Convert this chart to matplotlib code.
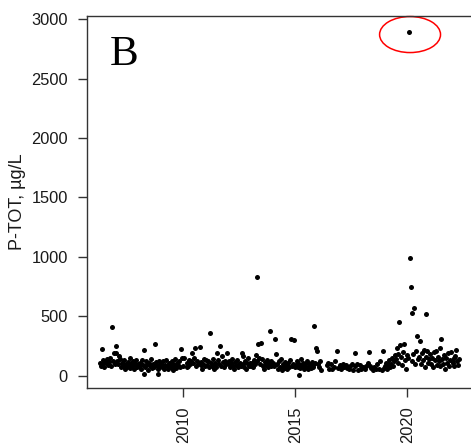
import numpy as np
import matplotlib
matplotlib.use("Agg")
import matplotlib.pyplot as plt
from matplotlib.patches import Ellipse

nan = np.nan
# Semi-monthly sampling slots (24 per year); nan = no sample taken
p_2006 = [nan, nan, nan, nan, nan, nan, 110, 80, 227, 95, 130, 75, 120, 105, 140, 90, 115, 150, 85, 407, 125, 188, 100, 193]
p_2007 = [250, 120, 95, 166, 140, 70, 110, 85, 130, 60, 100, 75, 115, 90, 145, 65, 105, 80, 125, 55, 95, 135, 70, 100]
p_2008 = [85, 110, 60, 130, 90, 216, 14, 75, 120, 95, 50, 105, 80, 140, 65, 100, 70, 267, 115, 90, 14, 60, 125, 85]
p_2009 = [100, 70, 120, 55, 90, 135, 80, 60, 110, 95, 75, 125, 50, 100, 85, 140, 65, 105, 90, 120, 70, 227, 145, 80]
p_2010 = [145, nan, nan, 75, 110, 85, 132, 95, 120, 193, 105, 150, 235, 80, 125, 95, 110, 238, 90, 115, 60, 100, 140, 85]
p_2011 = [132, 90, 120, 70, 362, 105, 85, 140, 60, 110, 95, 75, 188, 130, 100, 250, 80, 165, 115, 70, 125, 95, 188, 105]
p_2012 = [95, 120, 70, 105, 140, 80, 60, 115, 90, 130, 75, 100, 110, 85, 188, 166, 95, 70, 125, 60, 105, 145, 80, 110]
p_2013 = [85, 110, 70, 130, 95, 174, 827, 120, 264, 150, 100, 278, 140, 80, 60, 115, 90, 130, 75, 105, 376, 85, 120, 95]
p_2014 = [110, 80, 306, 180, 95, 60, 120, 75, 140, 50, 100, 85, 65, 115, 90, 55, 105, 70, 130, 308, 85, 100, 303, 75]
p_2015 = [90, 120, 70, 100, 6, 65, 138, 85, 110, 60, 95, 75, 125, 55, 100, 80, 65, 115, 90, 70, 421, 105, 230, 210]
p_2016 = [100, 75, 120, 48, nan, nan, nan, nan, nan, 90, nan, 110, 60, nan, 100, 55, nan, 70, 120, nan, 208, 65, nan, 90]
p_2017 = [60, 85, nan, 100, 70, nan, 90, 65, nan, 55, 80, nan, 95, 50, nan, 85, 188, nan, 100, 45, nan, 90, 55, nan]
p_2018 = [70, nan, 55, 80, nan, 105, 196, nan, 85, 65, nan, 45, 75, nan, 55, 100, nan, 60, 120, nan, 50, 210, nan, 65]
p_2019 = [80, 110, 60, 95, 130, 70, 100, 150, 85, 120, 175, 140, 230, 110, 185, 449, 258, 160, 90, 200, 267, 130, 60, 175]
p_2020 = [150, 2895, 990, 749, 530, 120, 180, 567, 95, 210, 334, 140, 160, 295, 100, 188, 130, 220, 75, 519, 160, 210, 110, 140]
p_2021 = [180, 100, 150, 70, 200, 130, 210, 90, 160, 120, 230, 85, 309, 140, 100, 175, 60, 150, 110, 190, 80, 130, 196, 120]
p_2022 = [110, 150, 80, 170, 216, 120, 90, 140]

years = list(range(2006, 2023))
series = [p_2006, p_2007, p_2008, p_2009, p_2010, p_2011, p_2012, p_2013, p_2014,
          p_2015, p_2016, p_2017, p_2018, p_2019, p_2020, p_2021, p_2022]
x_ticks = [2010, 2015, 2020]
y_ticks = [0, 500, 1000, 1500, 2000, 2500, 3000]

dates, vals = [], []
for yr, vs in zip(years, series):
    for i, v in enumerate(vs):
        dates.append(yr + (i + 0.5) / 24.0)
        vals.append(v)
dates = np.array(dates)
vals = np.array(vals, dtype=float)

plt.rcParams['font.family'] = ['Liberation Sans', 'DejaVu Sans']

fig = plt.figure(figsize=(4.71, 4.48), dpi=100)
ax = fig.add_axes([0.184, 0.134, 0.833, 0.830])
ax.plot(dates, vals, 'o', color='black', ms=3.6, mec='none', ls='none')

ax.set_xlim(2005.69, 2023.2)
ax.set_ylim(-103, 3025)
ax.set_xticks(x_ticks)
ax.set_xticklabels([str(t) for t in x_ticks], rotation=90)
ax.set_yticks(y_ticks)
ax.tick_params(axis='both', direction='out', length=6.5, width=1, color='#333333',
               labelsize=11.8, labelcolor='#1a1a1a', pad=7)
for s in ['left', 'top', 'bottom']:
    ax.spines[s].set_color('#333333')
    ax.spines[s].set_linewidth(1)
ax.spines['right'].set_visible(False)

# red ellipse around the maximum
imax = np.nanargmax(vals)
ax.add_patch(Ellipse((dates[imax] + 0.06, vals[imax] - 25), 2.72, 303,
                     fill=False, edgecolor='red', linewidth=1.1, clip_on=False))

fig.text(18 / 471, 1 - 202 / 448, 'P-TOT, µg/L', rotation=90, ha='center', va='center',
         fontsize=13, color='#1a1a1a')
fig.text(110 / 471, 1 - 65 / 448, 'B', family=['Liberation Serif', 'DejaVu Serif'],
         fontsize=31, ha='left', va='baseline', color='black')

fig.savefig('out.png', dpi=100)
